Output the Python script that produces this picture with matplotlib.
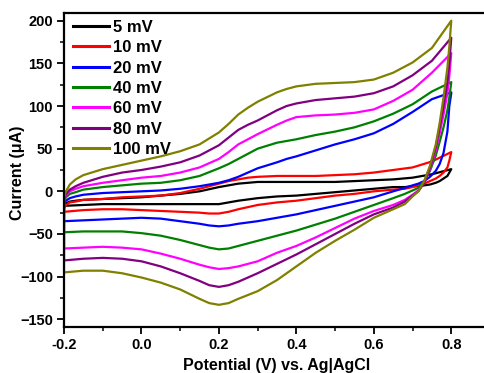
import matplotlib
matplotlib.use("Agg")
import matplotlib.pyplot as plt
from matplotlib.ticker import MultipleLocator

plt.rcParams['font.family'] = ['Liberation Sans', 'DejaVu Sans']
plt.rcParams['font.weight'] = 'bold'

# Potential grids (V vs Ag|AgCl)
anodic_E = [-0.2, -0.195, -0.185, -0.17, -0.15, -0.1, -0.05, 0.0, 0.05, 0.1, 0.15, 0.2, 0.225, 0.25, 0.275,
            0.3, 0.35, 0.375, 0.4, 0.45, 0.5, 0.55, 0.6, 0.65, 0.7, 0.75, 0.8]
cathodic_E = [0.8, 0.795, 0.79, 0.78, 0.77, 0.76, 0.745, 0.73, 0.715, 0.7, 0.68, 0.65,
              0.6, 0.55, 0.5, 0.45, 0.4, 0.35, 0.3, 0.25, 0.225, 0.2, 0.175, 0.15, 0.1, 0.05, 0.0,
              -0.05, -0.1, -0.15, -0.2]

labels = ["5 mV", "10 mV", "20 mV", "40 mV", "60 mV", "80 mV", "100 mV"]
colors = ["#000000", "#ff0000", "#0000ff", "#008000", "#ff00ff", "#800080", "#808000"]

# Current (uA), anodic sweep
i_anodic_5 = [-17, -14, -12, -11, -10, -9, -8, -7, -5, -3, 0, 5, 7, 9, 10, 11, 11, 11, 11, 11, 11, 12, 13, 14, 16, 20, 26]
i_anodic_10 = [-20, -16, -13, -12, -10, -9, -7, -6, -5, -2, 3, 9, 12, 14, 16, 17, 18, 18, 18, 18, 19, 20, 22, 25, 28, 35, 46]
i_anodic_20 = [-15, -11, -8, -6, -4, -2, -1, 0, 1, 3, 6, 10, 13, 17, 22, 27, 34, 38, 41, 48, 55, 61, 68, 79, 93, 108, 116]
i_anodic_40 = [-12, -7, -3, -1, 2, 5, 7, 9, 10, 13, 18, 27, 32, 38, 44, 50, 57, 59, 61, 66, 70, 75, 82, 91, 102, 117, 128]
i_anodic_60 = [-10, -5, 0, 3, 6, 10, 13, 16, 18, 22, 28, 38, 46, 55, 61, 67, 78, 83, 87, 89, 90, 92, 96, 106, 119, 139, 162]
i_anodic_80 = [-9, -3, 2, 6, 10, 17, 22, 25, 29, 34, 42, 54, 63, 72, 78, 83, 95, 100, 103, 107, 109, 111, 115, 123, 136, 153, 180]
i_anodic_100 = [-8, 0, 8, 14, 19, 26, 31, 36, 41, 47, 55, 69, 79, 90, 98, 105, 116, 120, 123, 126, 127, 128, 131, 139, 151, 168, 200]

# Current (uA), cathodic sweep
i_cathodic_5 = [26, 22, 18, 15, 12, 10, 8, 7, 6, 6, 5, 5, 3, 1, -1, -3, -5, -6, -8, -11, -13, -15, -15, -15, -15, -15, -15, -15, -15, -16, -17]
i_cathodic_10 = [46, 36, 28, 22, 18, 15, 12, 9, 7, 5, 3, 2, 0, -3, -5, -8, -11, -13, -16, -21, -24, -26, -26, -25, -24, -23, -22, -21, -21, -22, -24]
i_cathodic_20 = [115, 100, 70, 45, 32, 24, 17, 12, 9, 7, 4, 0, -7, -12, -17, -22, -27, -31, -35, -38, -40, -41, -40, -38, -35, -32, -31, -32, -33, -34, -35]
i_cathodic_40 = [128, 110, 95, 75, 58, 42, 24, 12, 4, 1, -3, -8, -16, -24, -32, -39, -46, -52, -58, -64, -67, -68, -66, -63, -57, -52, -49, -47, -47, -47, -48]
i_cathodic_60 = [162, 135, 115, 90, 68, 48, 26, 10, 1, -4, -10, -16, -23, -32, -43, -54, -64, -72, -82, -88, -90, -91, -89, -86, -79, -73, -68, -66, -65, -66, -67]
i_cathodic_80 = [180, 150, 128, 100, 75, 52, 28, 10, 0, -5, -12, -19, -27, -38, -50, -62, -74, -85, -96, -106, -110, -112, -110, -105, -96, -88, -82, -79, -78, -79, -81]
i_cathodic_100 = [200, 170, 145, 110, 80, 55, 30, 12, 0, -6, -15, -21, -31, -45, -58, -72, -88, -104, -117, -126, -131, -133, -131, -126, -115, -107, -101, -96, -93, -93, -95]

anodic = [i_anodic_5, i_anodic_10, i_anodic_20, i_anodic_40, i_anodic_60, i_anodic_80, i_anodic_100]
cathodic = [i_cathodic_5, i_cathodic_10, i_cathodic_20, i_cathodic_40, i_cathodic_60, i_cathodic_80, i_cathodic_100]

fig = plt.figure(figsize=(4.84, 3.73), dpi=100)
ax = fig.add_axes([64 / 484, 46 / 373, 426 / 484, 314 / 373])

for lab, col, ia, ic in zip(labels, colors, anodic, cathodic):
    xs = list(anodic_E) + list(cathodic_E) + [anodic_E[0]]
    ys = list(ia) + list(ic) + [ia[0]]
    ax.plot(xs, ys, color=col, lw=1.6, label=lab, solid_joinstyle='round')

ax.set_xlim(-0.2, 0.9)
ax.set_ylim(-159, 209)
ax.xaxis.set_major_locator(MultipleLocator(0.2))
ax.xaxis.set_minor_locator(MultipleLocator(0.1))
ax.yaxis.set_major_locator(MultipleLocator(50))
ax.yaxis.set_minor_locator(MultipleLocator(25))
ax.set_xticks([-0.2, 0.0, 0.2, 0.4, 0.6, 0.8])
ax.set_xticklabels(["-0.2", "0.0", "0.2", "0.4", "0.6", "0.8"])
ax.tick_params(which='major', direction='out', length=5, width=1.3, labelsize=10.5, pad=3)
ax.tick_params(which='minor', direction='out', length=3, width=1.1)
for s in ax.spines.values():
    s.set_linewidth(1.6)
for t in ax.get_xticklabels() + ax.get_yticklabels():
    t.set_fontweight('bold')

ax.set_xlabel("Potential (V) vs. Ag|AgCl", fontsize=11.5, fontweight='bold', labelpad=4)
ax.set_ylabel("Current (\u03bcA)", fontsize=11.5, fontweight='bold')
ax.yaxis.set_label_coords(-0.091, 0.49)

leg = ax.legend(loc='upper left', bbox_to_anchor=(0.005, 0.999), frameon=False,
                handlelength=2.2, handletextpad=0.2, labelspacing=0.32, borderaxespad=0.0,
                borderpad=0.4, prop={'weight': 'bold', 'size': 12})
for h in leg.get_lines():
    h.set_linewidth(2.2)

fig.savefig("out.png", dpi=100)
